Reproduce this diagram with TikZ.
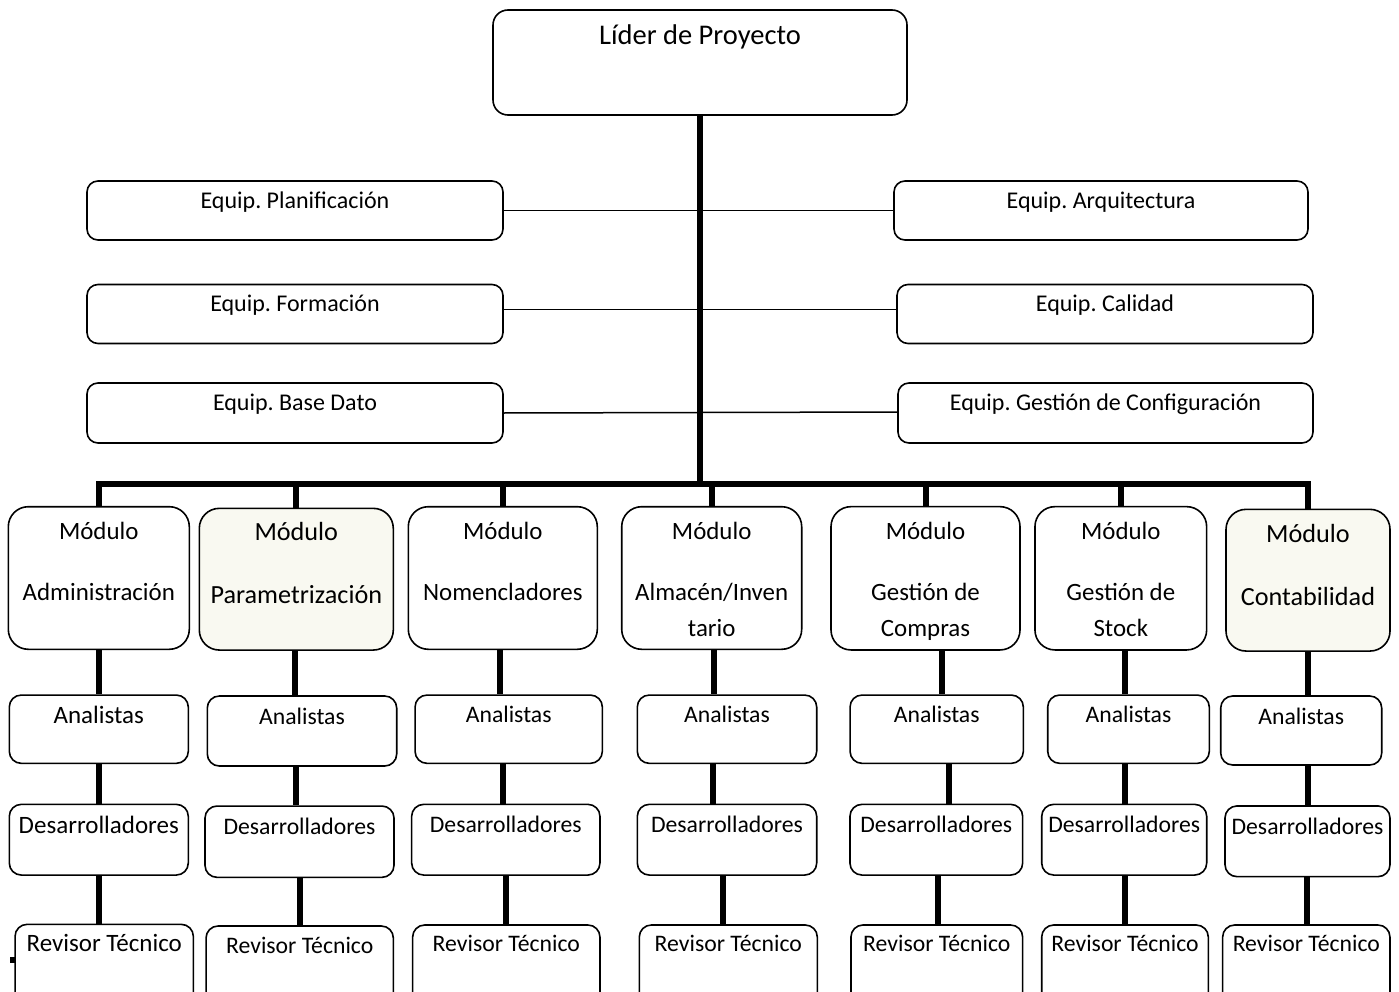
\documentclass[tikz,border=0pt]{standalone}
\usepackage{fontspec}
\setmainfont{Carlito}
\usetikzlibrary{calc}
\definecolor{cream}{RGB}{249,249,241}
\frenchspacing
\begin{document}
\begin{tikzpicture}[x=1pt,y=-1pt,
  frame/.style={draw=black, line width=1.6pt, inner sep=0pt, fill=white},
  leadbox/.style={frame, rounded corners=15pt},
  teambox/.style={frame, rounded corners=11pt, minimum height=59pt},
  unitbox/.style={frame, rounded corners=20pt},
  rolebox/.style={frame, rounded corners=12pt},
  hl/.style={fill=cream},
  lbl/.style={anchor=base, inner sep=0pt},
  fbig/.style={font=\fontsize{28.5}{32}\selectfont},
  fteam/.style={font=\fontsize{24}{28}\selectfont},
  funit/.style={font=\fontsize{24.9}{28}\selectfont},
  fhl/.style={font=\fontsize{26.2}{30}\selectfont},
  fone/.style={font=\fontsize{25}{28}\selectfont},
  frole/.style={font=\fontsize{23.7}{28}\selectfont},
  heavy/.style={line width=6pt, line join=miter},
  thin/.style={line width=1.5pt}
]
\useasboundingbox (0,0) rectangle (1399,992);
\clip (0,0) rectangle (1399,992);

% ---- project leader
\node[leadbox, minimum width=414pt, minimum height=105pt] (lider) at (700,62.5) {};
\node[lbl, fbig] (liderT) at (lider.center |- 0,45) {Líder de Proyecto};

% ---- support teams
\node[teambox, minimum width=416pt] (pl) at (295,210.5) {};
\node[teambox, minimum width=416pt] (fo) at (295,314) {};
\node[teambox, minimum width=416pt, minimum height=60pt] (bd) at (295,413) {};
\node[teambox, minimum width=414pt] (ar) at (1101,210.5) {};
\node[teambox, minimum width=416pt] (ca) at (1105,314) {};
\node[teambox, minimum width=415pt, minimum height=60pt] (gc) at (1105.5,413) {};
\node[lbl, fteam] (plT) at (pl.center |- 0,208.3) {Equip. Planificación};
\node[lbl, fteam] (foT) at (fo.center |- 0,311.7) {Equip. Formación};
\node[lbl, fteam] (bdT) at (bd.center |- 0,410) {Equip. Base Dato};
\node[lbl, fteam] (arT) at (ar.center |- 0,208.3) {Equip. Arquitectura};
\node[lbl, fteam] (caT) at (ca.center |- 0,311.7) {Equip. Calidad};
\node[lbl, fteam] (gcT) at (gc.center |- 0,410) {Equip. Gestión de Configuración};

% ---- modules
\node[unitbox, minimum width=181pt, minimum height=142.6pt] (m1) at (98.8,578) {};
\node[unitbox, hl, minimum width=194pt, minimum height=141.7pt] (m2) at (296.3,579.2) {};
\node[unitbox, minimum width=189pt, minimum height=142.6pt] (m3) at (502.8,578) {};
\node[unitbox, minimum width=180pt, minimum height=142.6pt] (m4) at (711.7,578) {};
\node[unitbox, minimum width=189pt, minimum height=143.3pt] (m5) at (925.5,578.3) {};
\node[unitbox, minimum width=171.7pt, minimum height=143.3pt] (m6) at (1120.8,578.3) {};
\node[unitbox, hl, minimum width=164pt, minimum height=141.7pt] (m7) at (1308,580.2) {};

\node[lbl, funit] (m1a) at (m1.center |- 0,539) {Módulo};
\node[lbl, funit] (m1b) at (m1.center |- 0,600) {Administración};
\node[lbl, fhl] (m2a) at (m2.center |- 0,540) {Módulo};
\node[lbl, fhl] (m2b) at (m2.center |- 0,603.3) {Parametrización};
\node[lbl, funit] (m3a) at (m3.center |- 0,539) {Módulo};
\node[lbl, funit] (m3b) at (m3.center |- 0,600.7) {Nomencladores};
\node[lbl, funit] (m4a) at (m4.center |- 0,539) {Módulo};
\node[lbl, funit] (m4b) at (m4.center |- 0,600.7) {Almacén/Inven};
\node[lbl, funit] (m4c) at (m4.center |- 0,636.7) {tario};
\node[lbl, funit] (m5a) at (m5.center |- 0,539) {Módulo};
\node[lbl, funit] (m5b) at (m5.center |- 0,600.7) {Gestión de};
\node[lbl, funit] (m5c) at (m5.center |- 0,636) {Compras};
\node[lbl, funit] (m6a) at (m6.center |- 0,539) {Módulo};
\node[lbl, funit] (m6b) at (m6.center |- 0,600) {Gestión de};
\node[lbl, funit] (m6c) at (m6.center |- 0,636) {Stock};
\node[lbl, fhl] (m7a) at (m7.center |- 0,542.3) {Módulo};
\node[lbl, fhl] (m7b) at (m7.center |- 0,605.7) {Contabilidad};

% ---- analysts
\node[rolebox, minimum width=179pt, minimum height=68.3pt] (a1) at (98.8,729.2) {};
\node[rolebox, minimum width=189.4pt, minimum height=70pt] (a2) at (302,731) {};
\node[rolebox, minimum width=187.3pt, minimum height=68.3pt] (a3) at (508.7,729.2) {};
\node[rolebox, minimum width=179.4pt, minimum height=68.3pt] (a4) at (727,729.2) {};
\node[rolebox, minimum width=173.3pt, minimum height=68.3pt] (a5) at (936.7,729.2) {};
\node[rolebox, minimum width=161.6pt, minimum height=68.3pt] (a6) at (1128.5,729.2) {};
\node[rolebox, minimum width=161pt, minimum height=69pt] (a7) at (1301.2,730.5) {};
\node[lbl, fone] (a1T) at (a1.center |- 0,723.3) {Analistas};
\node[lbl, frole] (a2T) at (a2.center |- 0,724.3) {Analistas};
\node[lbl, frole] (a3T) at (a3.center |- 0,722.7) {Analistas};
\node[lbl, frole] (a4T) at (a4.center |- 0,722.7) {Analistas};
\node[lbl, frole] (a5T) at (a5.center |- 0,722.7) {Analistas};
\node[lbl, frole] (a6T) at (a6.center |- 0,722.7) {Analistas};
\node[lbl, frole] (a7T) at (a7.center |- 0,724.3) {Analistas};

% ---- developers
\node[rolebox, minimum width=179pt, minimum height=70.7pt] (d1) at (98.8,839.7) {};
\node[rolebox, minimum width=189pt, minimum height=71.3pt] (d2) at (299.5,841.7) {};
\node[rolebox, minimum width=188.3pt, minimum height=70.7pt] (d3) at (505.8,839.7) {};
\node[rolebox, minimum width=179.4pt, minimum height=70.7pt] (d4) at (727,839.7) {};
\node[rolebox, minimum width=172.7pt, minimum height=70.7pt] (d5) at (936.3,839.7) {};
\node[rolebox, minimum width=165pt, minimum height=70.7pt] (d6) at (1124.2,839.7) {};
\node[rolebox, minimum width=165pt, minimum height=70.7pt] (d7) at (1307.5,841.3) {};
\node[lbl, fone] (d1T) at (d1.center |- 0,833.3) {Desarrolladores};
\node[lbl, frole] (d2T) at (d2.center |- 0,834) {Desarrolladores};
\node[lbl, frole] (d3T) at (d3.center |- 0,832) {Desarrolladores};
\node[lbl, frole] (d4T) at (d4.center |- 0,832) {Desarrolladores};
\node[lbl, frole] (d5T) at (d5.center |- 0,832) {Desarrolladores};
\node[lbl, frole] (d6T) at (d6.center |- 0,832) {Desarrolladores};
\node[lbl, frole] (d7T) at (d7.center |- 0,834) {Desarrolladores};

% ---- technical reviewers
\node[rolebox, minimum width=178.3pt, minimum height=80.7pt] (r1) at (104.2,964.7) {};
\node[rolebox, minimum width=187.3pt, minimum height=80pt] (r2) at (299.7,966) {};
\node[rolebox, minimum width=187.3pt, minimum height=80pt] (r3) at (506.3,965) {};
\node[rolebox, minimum width=178pt, minimum height=80pt] (r4) at (728.3,965) {};
\node[rolebox, minimum width=171.7pt, minimum height=80pt] (r5) at (936.8,965) {};
\node[rolebox, minimum width=166.6pt, minimum height=80pt] (r6) at (1125,965) {};
\node[rolebox, minimum width=167.3pt, minimum height=80pt] (r7) at (1306.3,965) {};
\node[lbl, fone] (r1T) at (r1.center |- 0,951.7) {Revisor Técnico};
\node[lbl, frole] (r2T) at (r2.center |- 0,953.3) {Revisor Técnico};
\node[lbl, frole] (r3T) at (r3.center |- 0,951.7) {Revisor Técnico};
\node[lbl, frole] (r4T) at (r4.center |- 0,951.7) {Revisor Técnico};
\node[lbl, frole] (r5T) at (r5.center |- 0,951.7) {Revisor Técnico};
\node[lbl, frole] (r6T) at (r6.center |- 0,951.7) {Revisor Técnico};
\node[lbl, frole] (r7T) at (r7.center |- 0,951.7) {Revisor Técnico};

% ---- thin links across the trunk
\draw[thin] (pl.east) -- (ar.west);
\draw[thin] ([yshift=4.5pt]fo.east) -- ([yshift=4.5pt]ca.west);
\draw[thin] (bd.east) -- ([yshift=1pt]gc.west);

% ---- trunk and module bus
\coordinate (bus) at (700,484);
\draw[heavy] (lider.south) -- (lider.south |- bus);
\draw[heavy] (m1.north) -- (m1.north |- bus) -- (m7.north |- bus) -- (m7.north);
\foreach \m in {m2,m3,m4,m5,m6} \draw[heavy] (\m.north) -- (\m.north |- bus);

% ---- module -> analysts
\draw[heavy] (m1.south -| 99,0) -- (a1.north -| 99,0);
\draw[heavy] (m2.south -| 294.8,0) -- (a2.north -| 294.8,0);
\draw[heavy] (m3.south -| 499.8,0) -- (a3.north -| 499.8,0);
\draw[heavy] (m4.south -| 714.2,0) -- (a4.north -| 714.2,0);
\draw[heavy] (m5.south -| 941.7,0) -- (a5.north -| 941.7,0);
\draw[heavy] (m6.south -| 1124.5,0) -- (a6.north -| 1124.5,0);
\draw[heavy] (m7.south -| 1307.8,0) -- (a7.north -| 1307.8,0);

% ---- analysts -> developers
\draw[heavy] (a1.south -| 99,0) -- (d1.north -| 99,0);
\draw[heavy] (a2.south -| 296.2,0) -- (d2.north -| 296.2,0);
\draw[heavy] (a3.south -| 502.5,0) -- (d3.north -| 502.5,0);
\draw[heavy] (a4.south -| 713.3,0) -- (d4.north -| 713.3,0);
\draw[heavy] (a5.south -| 949.2,0) -- (d5.north -| 949.2,0);
\draw[heavy] (a6.south -| 1124.5,0) -- (d6.north -| 1124.5,0);
\draw[heavy] (a7.south -| 1308,0) -- (d7.north -| 1308,0);

% ---- developers -> reviewers
\draw[heavy] (d1.south -| 98.5,0) -- (r1.north -| 98.5,0);
\draw[heavy] (d2.south -| 299.7,0) -- (r2.north -| 299.7,0);
\draw[heavy] (d3.south -| 505.8,0) -- (r3.north -| 505.8,0);
\draw[heavy] (d4.south -| 722.5,0) -- (r4.north -| 722.5,0);
\draw[heavy] (d5.south -| 937.5,0) -- (r5.north -| 937.5,0);
\draw[heavy] (d6.south -| 1124.5,0) -- (r6.north -| 1124.5,0);
\draw[heavy] (d7.south -| 1306.7,0) -- (r7.north -| 1306.7,0);

% ---- small stub left of the first reviewer box
\fill (10,957) rectangle (15,963);
\end{tikzpicture}
\end{document}
